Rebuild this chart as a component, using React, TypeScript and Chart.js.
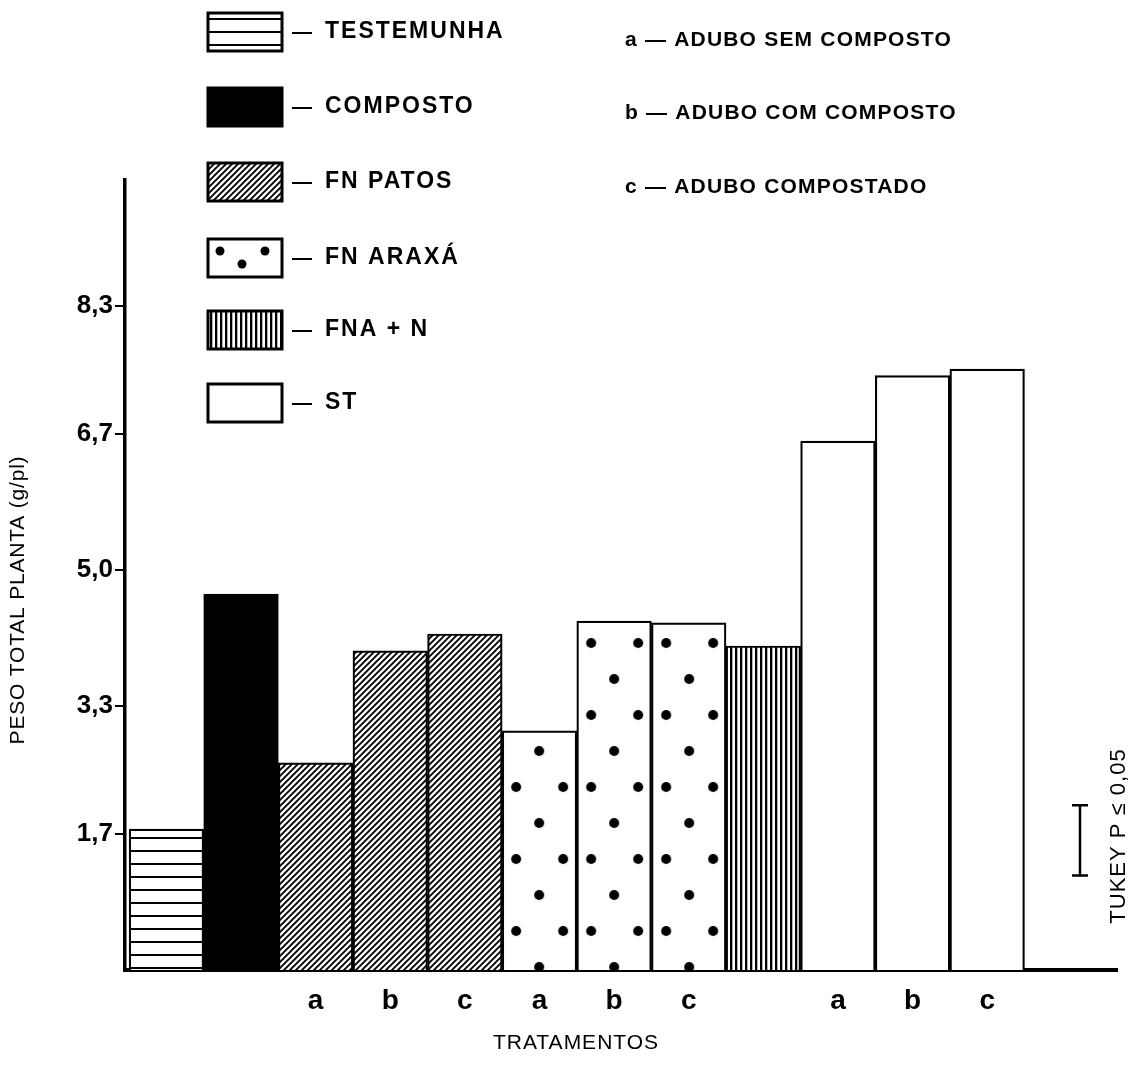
import React, { useEffect, useRef } from 'react';
import { Chart, registerables } from 'chart.js';

Chart.register(...registerables);

// ---------------- data ----------------
const barLabels = [
  'TESTEMUNHA', 'COMPOSTO',
  'FN PATOS a', 'FN PATOS b', 'FN PATOS c',
  'FN ARAXÁ a', 'FN ARAXÁ b', 'FN ARAXÁ c',
  'FNA + N',
  'ST a', 'ST b', 'ST c',
];
const xTickLabels = ['', '', 'a', 'b', 'c', 'a', 'b', 'c', '', 'a', 'b', 'c'];
const barValues = [1.76, 4.70, 2.59, 3.99, 4.20, 2.99, 4.36, 4.34, 4.05, 6.61, 7.43, 7.51];
const barGroup = [0, 1, 2, 2, 2, 3, 3, 3, 4, 5, 5, 5];
const groupNames = ['TESTEMUNHA', 'COMPOSTO', 'FN PATOS', 'FN ARAXÁ', 'FNA + N', 'ST'];
const fertilizerNotes = ['a — ADUBO SEM COMPOSTO', 'b — ADUBO COM COMPOSTO', 'c — ADUBO COMPOSTADO'];
const yTickValues = [1.7, 3.3, 5.0, 6.7, 8.3];
const tukeyLow = 1.18;
const tukeyHigh = 2.06;
const yTitle = 'PESO TOTAL PLANTA (g/pl)';
const xTitle = 'TRATAMENTOS';
const tukeyLabel = 'TUKEY P ≤ 0,05';

const FONT = '"Liberation Sans", Arial, Helvetica, sans-serif';

function makePattern(kind: string): CanvasPattern | string {
  const c = document.createElement('canvas');
  const g = c.getContext('2d')!;
  if (kind === 'hlines') {
    c.width = 8; c.height = 13;
    g.fillStyle = '#fff'; g.fillRect(0, 0, 8, 13);
    g.fillStyle = '#000'; g.fillRect(0, 5, 8, 2);
  } else if (kind === 'hatch') {
    c.width = 6; c.height = 6;
    g.fillStyle = '#fff'; g.fillRect(0, 0, 6, 6);
    g.strokeStyle = '#000'; g.lineWidth = 1.9;
    g.beginPath();
    g.moveTo(0, 6); g.lineTo(6, 0);
    g.moveTo(-1, 1); g.lineTo(1, -1);
    g.moveTo(5, 7); g.lineTo(7, 5);
    g.stroke();
  } else if (kind === 'dots') {
    c.width = 75; c.height = 72;
    g.fillStyle = '#fff'; g.fillRect(0, 0, 75, 72);
    g.fillStyle = '#000';
    const pts = [[14, 18], [61, 18], [37, 54]];
    for (const [x, y] of pts) { g.beginPath(); g.arc(x, y, 5, 0, Math.PI * 2); g.fill(); }
  } else if (kind === 'vlines') {
    c.width = 5; c.height = 8;
    g.fillStyle = '#fff'; g.fillRect(0, 0, 5, 8);
    g.fillStyle = '#000'; g.fillRect(0, 0, 2.3, 8);
  }
  return g.createPattern(c, 'repeat')!;
}

export default function App() {
  const ref = useRef<HTMLCanvasElement>(null);

  useEffect(() => {
    document.body.style.margin = '0';
    const hl = makePattern('hlines');
    const hatch = makePattern('hatch');
    const dots = makePattern('dots') as CanvasPattern;
    const vl = makePattern('vlines');
    const fills: any[] = [hl, '#000', hatch, dots, vl, '#fff'];

    const alignPlugin = {
      id: 'alignDots',
      beforeDatasetsDraw(chart: any) {
        const meta = chart.getDatasetMeta(0);
        const idx = barGroup.indexOf(3);
        const el = meta.data[idx];
        if (el && (dots as any).setTransform) {
          const left = el.x - el.width / 2;
          dots.setTransform(new DOMMatrix().translate(left, 625));
        }
      },
    };

    const decorPlugin = {
      id: 'decor',
      afterDraw(chart: any) {
        const ctx: CanvasRenderingContext2D = chart.ctx;
        const ys = chart.scales.y;
        ctx.save();
        // legend
        const boxTops = [13, 88, 163, 239, 311, 384];
        const bx = 208, bw = 74, bh = 38;
        groupNames.forEach((name, i) => {
          const by = boxTops[i];
          if (i === 3) {
            ctx.fillStyle = '#fff';
            ctx.fillRect(bx, by, bw, bh);
            ctx.fillStyle = '#000';
            for (const [dx, dy] of [[12, 12], [34, 25], [57, 12]]) {
              ctx.beginPath(); ctx.arc(bx + dx, by + dy, 4.5, 0, Math.PI * 2); ctx.fill();
            }
          } else {
            ctx.fillStyle = fills[i];
            ctx.fillRect(bx, by, bw, bh);
          }
          ctx.strokeStyle = '#000';
          ctx.lineWidth = 3;
          ctx.strokeRect(bx, by, bw, bh);
          ctx.fillStyle = '#000';
          ctx.textBaseline = 'middle';
          ctx.textAlign = 'left';
          ctx.font = `bold 20px ${FONT}`;
          ctx.fillText('—', 292, by + bh / 2);
          ctx.font = `bold 23px ${FONT}`;
          (ctx as any).letterSpacing = '2px';
          ctx.fillText(name, 325, by + bh / 2);
          (ctx as any).letterSpacing = '0px';
        });
        // notes a / b / c
        const noteYs = [40, 113, 187];
        ctx.font = `bold 21px ${FONT}`;
        (ctx as any).letterSpacing = '1.2px';
        fertilizerNotes.forEach((t, i) => ctx.fillText(t, 625, noteYs[i]));
        (ctx as any).letterSpacing = '0px';

        // y title
        ctx.save();
        ctx.translate(18, 600);
        ctx.rotate(-Math.PI / 2);
        ctx.textAlign = 'center';
        ctx.textBaseline = 'middle';
        ctx.font = `21px ${FONT}`;
        (ctx as any).letterSpacing = '0.8px';
        ctx.fillText(yTitle, 0, 0);
        ctx.restore();

        // x title
        ctx.textAlign = 'center';
        ctx.textBaseline = 'middle';
        ctx.font = `21px ${FONT}`;
        (ctx as any).letterSpacing = '1px';
        ctx.fillText(xTitle, 576, 1043);
        (ctx as any).letterSpacing = '0px';

        // Tukey bar
        const tx = 1080;
        const t1 = ys.getPixelForValue(tukeyHigh);
        const t2 = ys.getPixelForValue(tukeyLow);
        ctx.strokeStyle = '#000';
        ctx.lineWidth = 2.5;
        ctx.beginPath();
        ctx.moveTo(tx, t1); ctx.lineTo(tx, t2);
        ctx.moveTo(tx - 8, t1); ctx.lineTo(tx + 8, t1);
        ctx.moveTo(tx - 8, t2); ctx.lineTo(tx + 8, t2);
        ctx.stroke();

        ctx.save();
        ctx.translate(1119, 836);
        ctx.rotate(-Math.PI / 2);
        ctx.textAlign = 'center';
        ctx.textBaseline = 'middle';
        ctx.font = `22px ${FONT}`;
        (ctx as any).letterSpacing = '1px';
        ctx.fillText(tukeyLabel, 0, 0);
        ctx.restore();

        ctx.restore();
      },
    };

    const chart = new Chart(ref.current!, {
      type: 'bar',
      data: {
        labels: barLabels,
        datasets: [
          {
            label: 'Peso total planta',
            data: barValues.map((y, i) => ({ x: i, y })) as any,
            backgroundColor: barGroup.map((g) => fills[g]),
            borderColor: '#000',
            borderWidth: 2.2,
            borderSkipped: 'bottom',
            categoryPercentage: 1,
            barPercentage: 1,
          },
        ],
      },
      options: {
        responsive: false,
        animation: false,
        devicePixelRatio: 1,
        layout: { padding: { top: 180, right: 12, left: 0, bottom: 0 } },
        plugins: { legend: { display: false }, tooltip: { enabled: false } },
        scales: {
          x: {
            type: 'linear',
            min: -0.555,
            max: 12.74,
            offset: false,
            grid: { display: false },
            border: { display: true, color: '#000', width: 4 },
            afterBuildTicks: (s: any) => { s.ticks = xTickLabels.map((_, i) => ({ value: i })); },
            afterFit: (s: any) => { s.height = 108; },
            ticks: {
              autoSkip: false,
              maxRotation: 0,
              padding: 6,
              color: '#000',
              font: { family: FONT, size: 28, weight: 'bold' },
              callback: (v: any) => xTickLabels[Math.round(Number(v))] ?? '',
            },
          },
          y: {
            min: 0,
            max: 9.875,
            afterBuildTicks: (s: any) => { s.ticks = yTickValues.map((v) => ({ value: v })); },
            afterFit: (s: any) => { s.width = 125; },
            grid: { drawOnChartArea: false, drawTicks: true, tickLength: 10, color: '#000', lineWidth: 2 },
            border: { display: true, color: '#000', width: 3.5 },
            ticks: {
              padding: 2,
              color: '#000',
              font: { family: FONT, size: 26, weight: 'bold' },
              callback: (v: any) => Number(v).toFixed(1).replace('.', ','),
            },
          },
        },
      },
      plugins: [alignPlugin, decorPlugin],
    } as any);

    return () => chart.destroy();
  }, []);

  return (
    <div style={{ width: 1129, height: 1078, position: 'relative', background: '#fff' }}>
      <canvas ref={ref} width={1129} height={1078} style={{ display: 'block' }} />
    </div>
  );
}
